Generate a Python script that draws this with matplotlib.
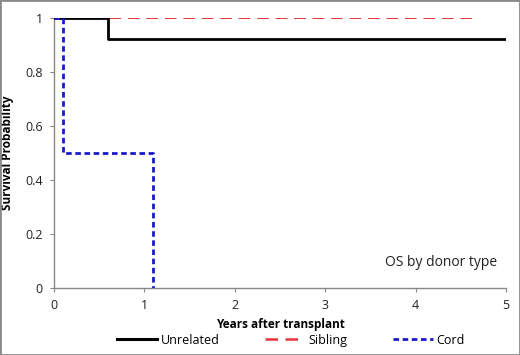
import matplotlib
matplotlib.use("Agg")
import matplotlib.pyplot as plt
from matplotlib.lines import Line2D

# Kaplan-Meier step data (time in years, survival)
unrelated_t = [0, 0.6, 0.6, 5.0]
unrelated_s = [1.0, 1.0, 0.923, 0.923]
sibling_t = [0, 4.65]
sibling_s = [1.0, 1.0]
cord_t = [0, 0.1, 0.1, 1.09, 1.09]
cord_s = [1.0, 1.0, 0.5, 0.5, 0.0]

xticks = [0, 1, 2, 3, 4, 5]
yticks = [0, 0.2, 0.4, 0.6, 0.8, 1.0]
ytick_labels = ["0", "0.2", "0.4", "0.6", "0.8", "1"]

plt.rcParams['font.family'] = ['Open Sans', 'DejaVu Sans']

fig = plt.figure(figsize=(5.2, 3.55), dpi=100)
ax = fig.add_axes([0.104, 0.189, 0.869, 0.760])

ax.plot(sibling_t, sibling_s, color='#e8343a', lw=1.4, dashes=(6, 3.5), zorder=2)
ax.plot(unrelated_t, unrelated_s, color='black', lw=2.0, zorder=3)
ax.plot(cord_t, cord_s, color='#1a1acc', lw=2.0, dashes=(2, 1.3), zorder=4)

ax.set_xlim(0, 5)
ax.set_ylim(0, 1)
ax.set_xticks(xticks)
ax.set_yticks(yticks)
ax.set_yticklabels(ytick_labels)
for s in ['top', 'right']:
    ax.spines[s].set_visible(False)
for s in ['left', 'bottom']:
    ax.spines[s].set_color('#888888')
    ax.spines[s].set_linewidth(1.0)
ax.tick_params(direction='out', length=3, color='#888888', labelsize=9, labelcolor='#222222', pad=5)

ax.set_xlabel('Years after transplant', fontsize=8.5, fontweight='bold', labelpad=4)
ax.set_ylabel('Survival Probability', fontsize=8.5, fontweight='bold', labelpad=8)

ax.text(4.9, 0.096, 'OS by donor type', fontsize=10, ha='right', va='center', color='#222222')

handles = [
    Line2D([0], [0], color='black', lw=2.2),
    Line2D([0], [0], color='#e8343a', lw=1.8, dashes=(5, 3)),
    Line2D([0], [0], color='#1a1acc', lw=2.0, dashes=(2, 1.3)),
]
fig.legend(handles, ['Unrelated', 'Sibling', 'Cord'], loc='center', bbox_to_anchor=(0.56, 0.042),
           ncol=3, frameon=False, fontsize=9, handlelength=3.2, columnspacing=3.6, handletextpad=0.3)

fig.patches.append(matplotlib.patches.Rectangle((0, 0), 1, 1, transform=fig.transFigure,
                                                fill=False, edgecolor='#8a8a8a', lw=2))

fig.savefig('out.png', dpi=100)
